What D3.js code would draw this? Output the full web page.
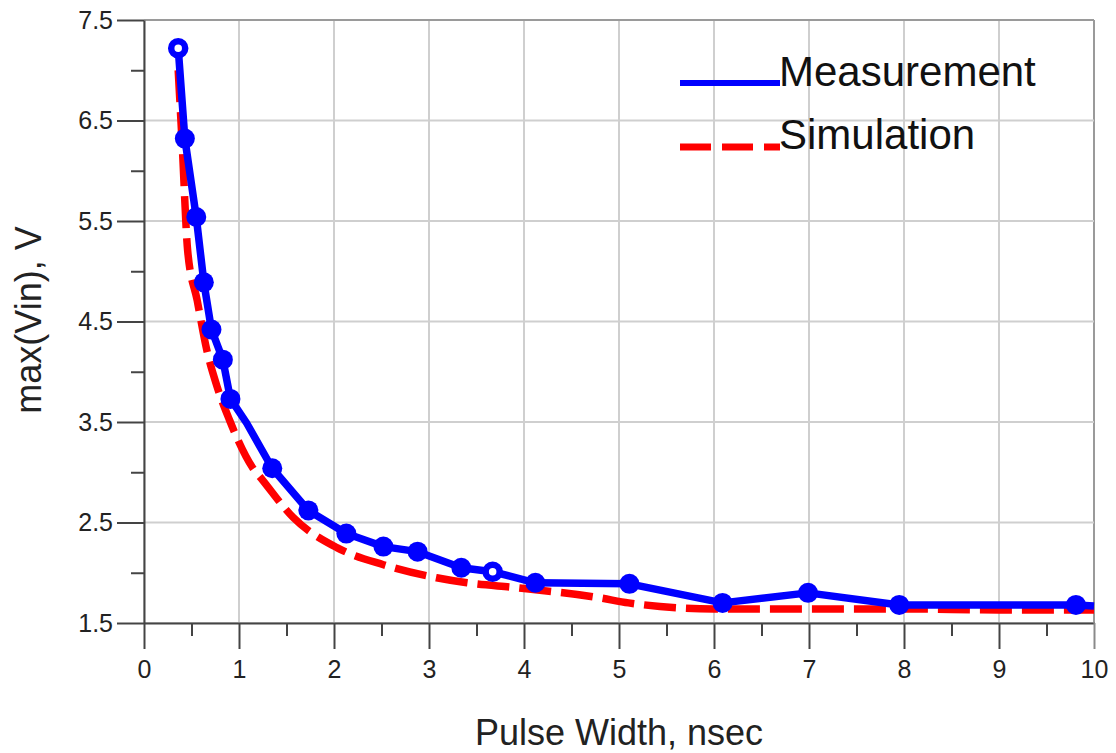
<!DOCTYPE html>
<html>
<head>
<meta charset="utf-8">
<script src="https://cdn.jsdelivr.net/npm/d3@7"></script>
<style>
  body { margin: 0; background: #fff; }
  svg { display: block; font-family: "Liberation Sans", Arial, sans-serif; }
</style>
</head>
<body>
<svg id="chart" width="1116" height="753"></svg>
<script>
// measured points (mark: 1 filled dot, 2 open dot, 0 no marker)
var measX = [0.36, 0.43, 0.55, 0.63, 0.71, 0.83, 0.91, 1.08, 1.35, 1.73, 2.13, 2.52, 2.88, 3.34, 3.67, 4.12, 5.11, 6.09, 6.99, 7.95, 9.81, 10];
var measY = [7.22, 6.32, 5.54, 4.89, 4.42, 4.12, 3.73, 3.49, 3.04, 2.62, 2.39, 2.26, 2.21, 2.05, 2.01, 1.90, 1.89, 1.70, 1.80, 1.68, 1.68, 1.67];
var measMark = [2, 1, 1, 1, 1, 1, 1, 0, 1, 1, 1, 1, 1, 1, 2, 1, 1, 1, 1, 1, 1, 0];

// simulated curve
var simX = [0.36, 0.40, 0.46, 0.56, 0.66, 0.77, 0.90, 0.98, 1.14, 1.25, 1.57, 2.03, 2.52, 3.08, 3.40, 3.93, 4.80, 5.10, 6.00, 7.00, 8.00, 9.00, 10.0];
var simY = [7.00, 6.30, 5.20, 4.71, 4.22, 3.85, 3.52, 3.34, 3.05, 2.92, 2.55, 2.25, 2.08, 1.95, 1.90, 1.85, 1.75, 1.70, 1.64, 1.64, 1.64, 1.63, 1.63];

var xTicks = d3.range(0, 10.01, 0.5);
var yTicks = d3.range(1.5, 7.51, 0.5);
var seriesNames = ["Measurement", "Simulation"];

var svg = d3.select("#chart");

var x = d3.scaleLinear().domain([0, 10]).range([144, 1094]);
var y = d3.scaleLinear().domain([1.5, 7.5]).range([623, 20]);

function isMajorX(d) { return Math.abs(d - Math.round(d)) < 1e-6; }
function isMajorY(d) { return Math.abs((d - 1.5) - Math.round(d - 1.5)) < 1e-6; }

// grid
svg.append("g").selectAll("line.gx")
  .data(xTicks.filter(isMajorX))
  .enter().append("line")
  .attr("x1", function (d) { return x(d); })
  .attr("x2", function (d) { return x(d); })
  .attr("y1", y(7.5)).attr("y2", y(1.5))
  .attr("stroke", function (d) { return d == 10 ? "#9a9a9a" : "#cfcfcf"; })
  .attr("stroke-width", 2);

svg.append("g").selectAll("line.gy")
  .data(yTicks.filter(isMajorY))
  .enter().append("line")
  .attr("x1", x(0)).attr("x2", x(10))
  .attr("y1", function (d) { return y(d); })
  .attr("y2", function (d) { return y(d); })
  .attr("stroke", function (d) { return d == 7.5 ? "#9a9a9a" : "#cfcfcf"; })
  .attr("stroke-width", 2);

// axes
var xAxis = d3.axisBottom(x)
  .tickValues(xTicks)
  .tickSizeInner(26).tickSizeOuter(0).tickPadding(11)
  .tickFormat(function (d) { return isMajorX(d) ? d3.format("d")(d) : ""; });

var gx = svg.append("g").attr("transform", "translate(0," + y(1.5) + ")").call(xAxis);
gx.select(".domain").attr("stroke", "#444").attr("stroke-width", 2);
gx.selectAll(".tick line")
  .attr("stroke", function (d) { return d == 10 ? "#8a8a8a" : "#444"; })
  .attr("stroke-width", 2)
  .attr("y2", function (d) { return isMajorX(d) ? 26 : 13; });
gx.selectAll(".tick text").attr("font-size", 25).attr("fill", "#222")
  .attr("font-family", "Liberation Sans, Arial, sans-serif");

var yAxis = d3.axisLeft(y)
  .tickValues(yTicks)
  .tickSizeInner(27).tickSizeOuter(0).tickPadding(4)
  .tickFormat(function (d) { return isMajorY(d) ? d3.format(".1f")(d) : ""; });

var gy = svg.append("g").attr("transform", "translate(" + x(0) + ",0)").call(yAxis);
gy.select(".domain").attr("stroke", "#444").attr("stroke-width", 2);
gy.selectAll(".tick line")
  .attr("stroke", "#444")
  .attr("stroke-width", 2)
  .attr("x2", function (d) { return isMajorY(d) ? -27 : -13; });
gy.selectAll(".tick text").attr("font-size", 25).attr("fill", "#222")
  .attr("font-family", "Liberation Sans, Arial, sans-serif");

// lines
var simData = simX.map(function (v, i) { return [v, simY[i]]; });
var measData = measX.map(function (v, i) { return [v, measY[i], measMark[i]]; });

var line = d3.line()
  .x(function (d) { return x(d[0]); })
  .y(function (d) { return y(d[1]); });

var smooth = d3.line()
  .curve(d3.curveMonotoneX)
  .x(function (d) { return x(d[0]); })
  .y(function (d) { return y(d[1]); });

svg.append("path")
  .datum(simData)
  .attr("d", smooth)
  .attr("fill", "none")
  .attr("stroke", "#ff0000")
  .attr("stroke-width", 7.5)
  .attr("stroke-dasharray", "32,10");

svg.append("path")
  .datum(measData)
  .attr("d", line)
  .attr("fill", "none")
  .attr("stroke", "#0000ff")
  .attr("stroke-width", 7.5)
  .attr("stroke-linejoin", "round");

svg.append("g").selectAll("circle")
  .data(measData.filter(function (d) { return d[2] > 0; }))
  .enter().append("circle")
  .attr("cx", function (d) { return x(d[0]); })
  .attr("cy", function (d) { return y(d[1]); })
  .attr("r", function (d) { return d[2] == 2 ? 7 : 10; })
  .attr("fill", function (d) { return d[2] == 2 ? "#fff" : "#0000ff"; })
  .attr("stroke", "#0000ff")
  .attr("stroke-width", function (d) { return d[2] == 2 ? 6.5 : 0; });

// legend
var legend = svg.append("g");
legend.append("line")
  .attr("x1", 680).attr("x2", 780).attr("y1", 83).attr("y2", 83)
  .attr("stroke", "#0000ff").attr("stroke-width", 6);
legend.append("line")
  .attr("x1", 680).attr("x2", 780).attr("y1", 147).attr("y2", 147)
  .attr("stroke", "#ff0000").attr("stroke-width", 7)
  .attr("stroke-dasharray", "31,11");
legend.append("text").attr("x", 779).attr("y", 86)
  .attr("font-size", 42).attr("fill", "#111").text(seriesNames[0]);
legend.append("text").attr("x", 779).attr("y", 149)
  .attr("font-size", 42).attr("fill", "#111").text(seriesNames[1]);

// axis titles
svg.append("text")
  .attr("x", 619).attr("y", 745)
  .attr("text-anchor", "middle")
  .attr("font-size", 36).attr("fill", "#222")
  .text("Pulse Width, nsec");

svg.append("text")
  .attr("transform", "translate(41,320) rotate(-90)")
  .attr("text-anchor", "middle")
  .attr("font-size", 36).attr("fill", "#222")
  .text("max(Vin), V");
</script>
</body>
</html>
